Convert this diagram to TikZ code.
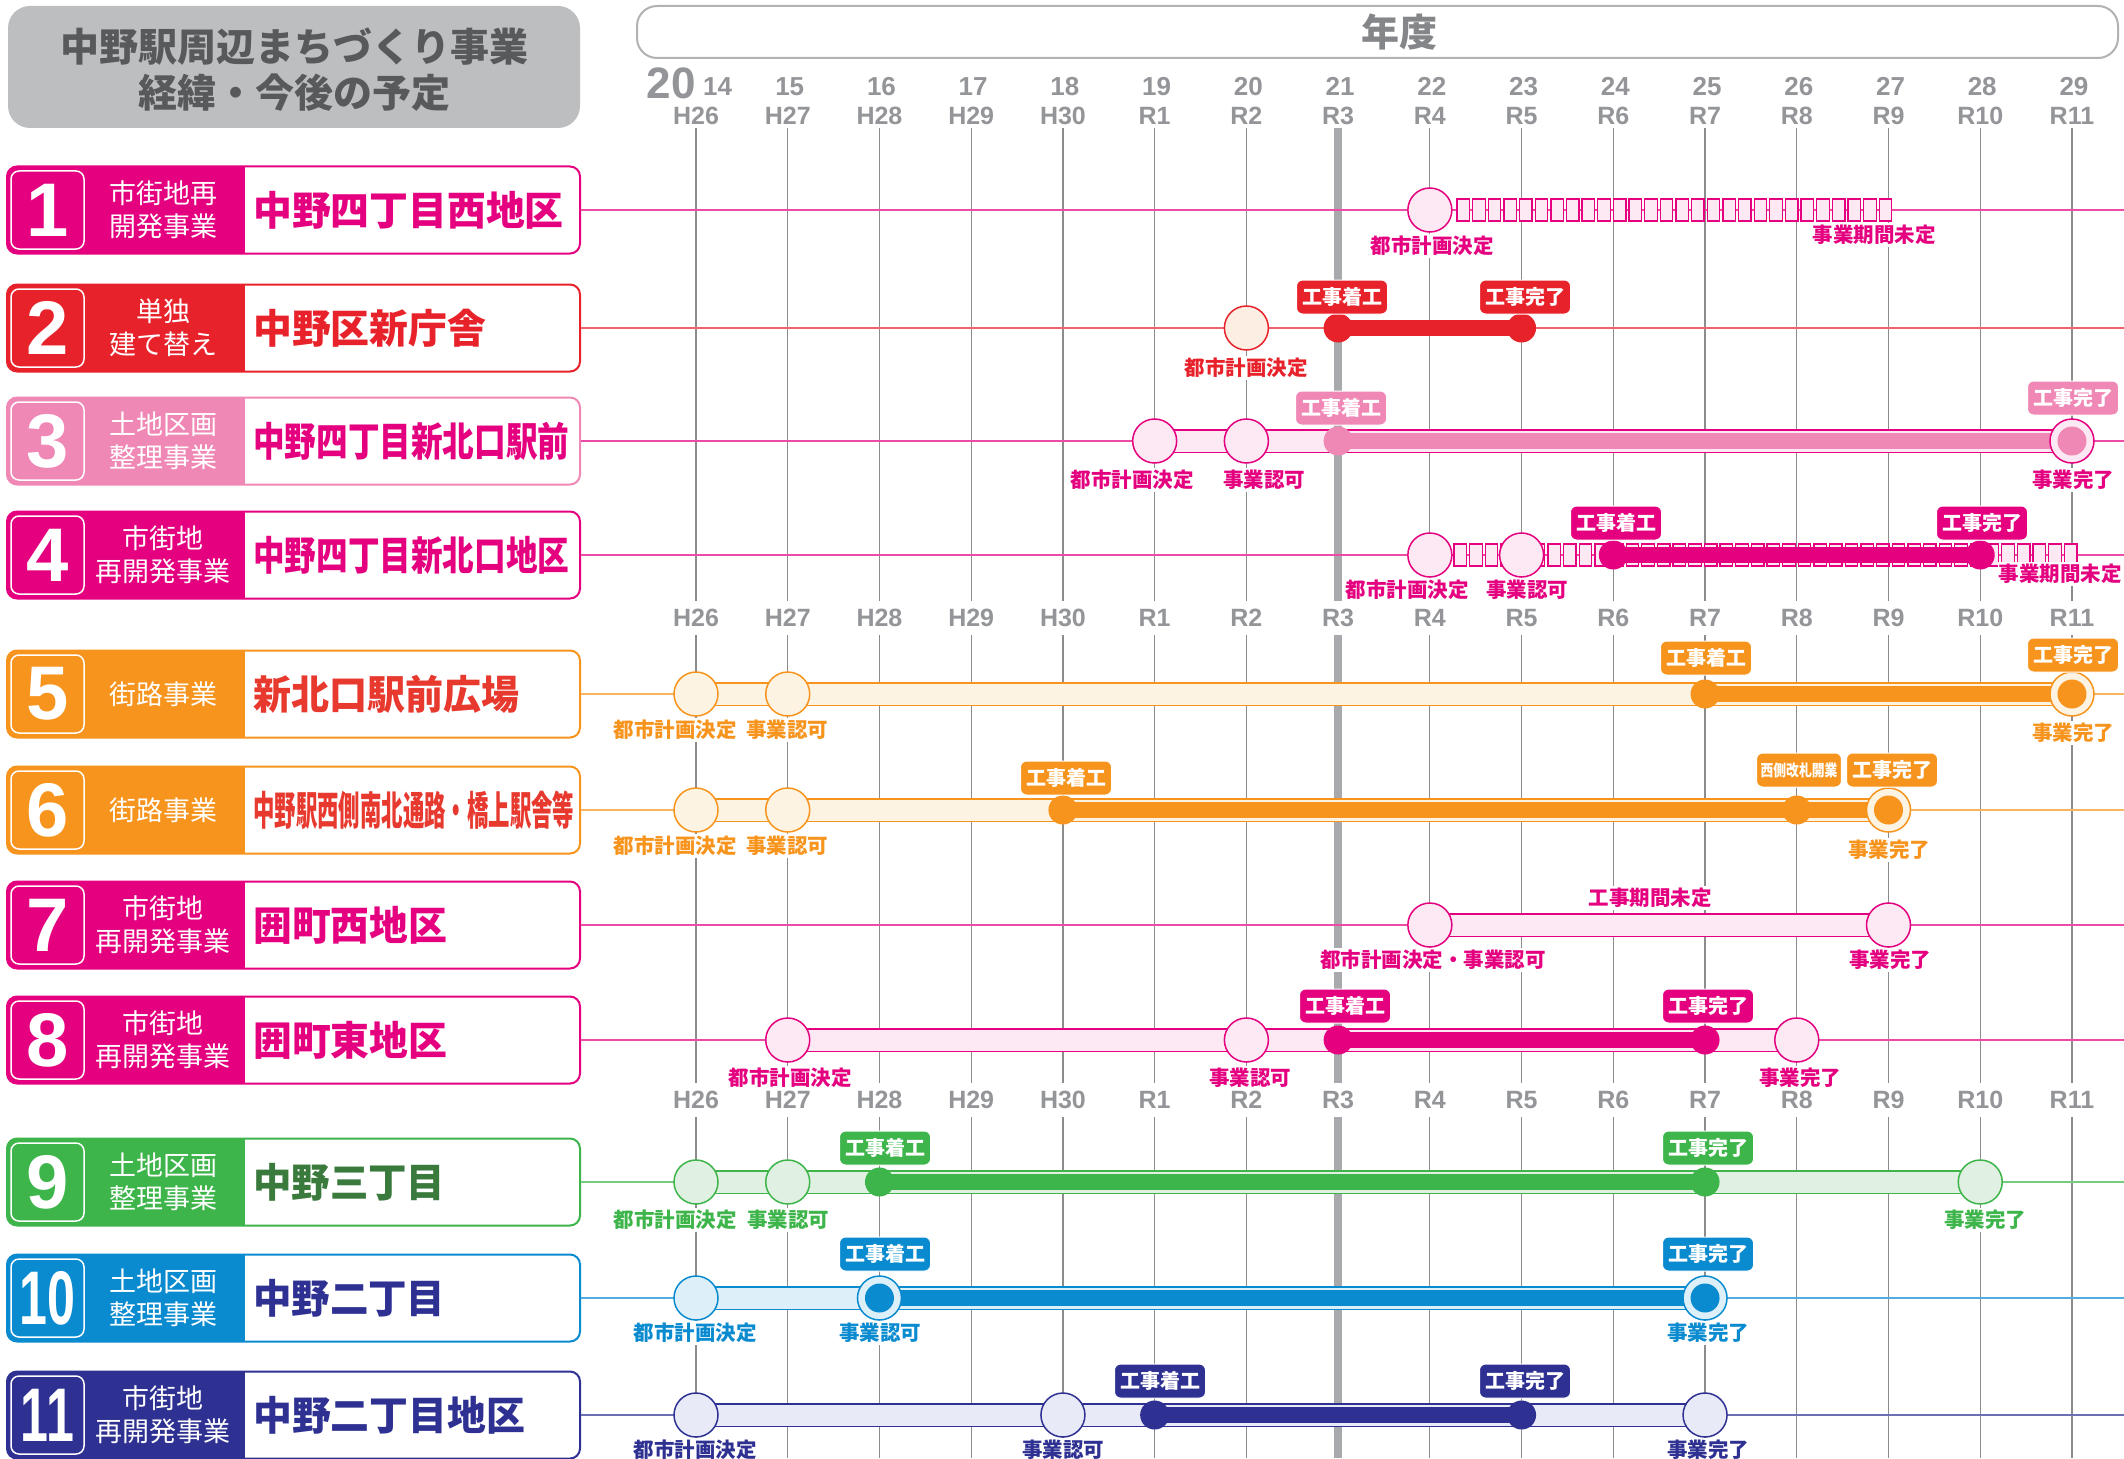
\documentclass[tikz,border=0pt]{standalone}
\usepackage{fontspec}
\usepackage{graphicx}
\setmainfont{Noto Sans CJK JP}
\newfontfamily\jp{Noto Sans CJK JP}
\newfontfamily\lat{Liberation Sans}
\newcommand\myfs[1]{\fontsize{#1}{#1}\selectfont}
\pgfmathdeclarefunction{gx}{1}{\pgfmathparse{696+91.73*#1}}
\definecolor{mag}{HTML}{E4007F}
\definecolor{magL}{HTML}{FCE9F3}
\definecolor{rd}{HTML}{E8222A}
\definecolor{rdL}{HTML}{FDEEE3}
\definecolor{pnk}{HTML}{F088B6}
\definecolor{orn}{HTML}{F7941D}
\definecolor{ornL}{HTML}{FDF3E2}
\definecolor{ornN}{HTML}{E8392F}
\definecolor{grn}{HTML}{3DB54A}
\definecolor{grnL}{HTML}{E0F0E2}
\definecolor{grnN}{HTML}{3A7A3D}
\definecolor{blu}{HTML}{0A8BD0}
\definecolor{bluL}{HTML}{DDF0FA}
\definecolor{nav}{HTML}{2E3192}
\definecolor{navL}{HTML}{E8EBF7}
\definecolor{hgray}{HTML}{939598}
\definecolor{gridgray}{HTML}{8C8C8C}
\definecolor{rthree}{HTML}{A7A9AC}
\definecolor{titlebg}{HTML}{BCBEC0}
\definecolor{titletx}{HTML}{58595B}
\colorlet{rc}{mag}\colorlet{rl}{magL}\colorlet{rb}{mag}
\newcommand\rowbox[9]{%
  \begin{scope}
  \clip[rounded corners=10pt] (7,{#2-43.5}) rectangle (580,{#2+43.5});
  \fill[#8] (7,{#2-43.5}) rectangle (245,{#2+43.5});
  \end{scope}
  \node[draw=#8, line width=2pt, rounded corners=10pt, minimum width=573pt, minimum height=87pt, inner sep=0pt] (b#1) at (293.5,#2) {};
  \node[draw=white, line width=1.5pt, rounded corners=8pt, minimum width=73pt, minimum height=78pt, inner sep=0pt] (n#1) at (47.5,#2) {};
  \node[text=white, font=\lat\bfseries\myfs{76}, inner sep=0pt] (nt#1) at (47.5,#2) {\scalebox{#4}[1]{#3}};
  \node[text=white, font=\jp\fontsize{27}{33}\selectfont, align=center, inner sep=0pt] (c#1) at (163,#2) {#5};
  \node[text=#9, font=\jp\bfseries\myfs{40}, anchor=west, inner sep=0pt] (m#1) at (253,#2) {\scalebox{#7}[1]{#6}};
}
\begin{document}
\begin{tikzpicture}[x=1pt,y=-1pt,
  vline/.style={draw=gridgray, line width=1.2pt},
  hlab/.style={text=hgray, font=\lat\bfseries\myfs{25}, inner sep=0pt},
  hlabw/.style={text=hgray, font=\lat\bfseries\myfs{25}, fill=white, inner xsep=2pt, inner ysep=8pt},
  rowline/.style={draw=rc!70, line width=2.5pt},
  xband/.style={draw=rc, line width=1.5pt, double=rl, double distance=21pt},
  xbar/.style={draw=rb, line width=15.5pt},
  mkopen/.style={circle, draw=rc, fill=rl, line width=1.5pt, minimum size=44pt, inner sep=0pt},
  mkdot/.style={circle, fill=rb, minimum size=29pt, inner sep=0pt},
  chainbox/.style={draw=rc, fill=rl, line width=1.3pt},
  xbadge/.style={fill=rb, text=white, rounded corners=6pt, font=\jp\bfseries\myfs{20}, minimum height=34pt, inner xsep=5.5pt, inner ysep=2pt, draw=white, line width=1pt},
  xlab/.style={text=rc, font=\jp\bfseries\myfs{20.5}, fill=white, inner xsep=1pt, inner ysep=2pt}
]
\useasboundingbox (0,0) rectangle (2124,1458);
\fill[white] (0,0) rectangle (2124,1458);

% title
\node[fill=titlebg, rounded corners=22pt, minimum width=572pt, minimum height=122pt, inner sep=0pt] (title) at (294,67) {};
\node[text=titletx, font=\jp\bfseries\fontsize{39}{46}\selectfont, align=center] (titletext) at (294,70) {中野駅周辺まちづくり事業\\経緯・今後の予定};
% year header
\node[draw=gray!60, line width=2pt, fill=white, rounded corners=20pt, minimum width=1481pt, minimum height=52pt, inner sep=0pt] (hdr) at (1377.5,32) {};
\node[text=hgray!90!black, font=\jp\bfseries\myfs{38}] (nendo) at (1399,32) {年度};

% grid lines
\foreach \i in {0,...,15} \draw[vline] ({gx(\i)},128) -- ({gx(\i)},1458);
\draw[draw=rthree, line width=8pt] ({gx(7)},128) -- ({gx(7)},1458);

% year numbers
\node[text=hgray, font=\lat\bfseries\myfs{44}, anchor=base east, inner sep=0pt] (y20) at (696,99) {20};
\node[text=hgray, font=\lat\bfseries\myfs{26}, anchor=base west, inner sep=0pt] (y14) at (703,96) {14};
\foreach \yr [count=\i from 1] in {15,...,29} {
  \node[text=hgray, font=\lat\bfseries\myfs{26}, anchor=base, inner sep=0pt] (y\yr) at ({gx(\i)+2},96) {\yr};
}
\foreach \lb [count=\i from 0] in {H26,H27,H28,H29,H30,R1,R2,R3,R4,R5,R6,R7,R8,R9,R10,R11} {
  \node[hlab, anchor=base] (ha\i) at ({gx(\i)},125) {\lb};
  \node[hlabw] (hb\i) at ({gx(\i)},618) {\lb};
  \node[hlabw] (hc\i) at ({gx(\i)},1100) {\lb};
}

% row boxes
\rowbox{1}{210}{1}{1}{市街地再\\開発事業}{中野四丁目西地区}{0.97}{mag}{mag}
\rowbox{2}{328}{2}{1}{単独\\建て替え}{中野区新庁舎}{0.97}{rd}{rd}
\rowbox{3}{441}{3}{1}{土地区画\\整理事業}{中野四丁目新北口駅前}{0.79}{pnk}{mag}
\rowbox{4}{555}{4}{1}{市街地\\再開発事業}{中野四丁目新北口地区}{0.79}{mag}{mag}
\rowbox{5}{694}{5}{1}{街路事業}{新北口駅前広場}{0.95}{orn}{ornN}
\rowbox{6}{810}{6}{1}{街路事業}{中野駅西側南北通路・橋上駅舎等}{0.535}{orn}{ornN}
\rowbox{7}{925}{7}{1}{市街地\\再開発事業}{囲町西地区}{0.97}{mag}{mag}
\rowbox{8}{1040}{8}{1}{市街地\\再開発事業}{囲町東地区}{0.97}{mag}{mag}
\rowbox{9}{1182}{9}{1}{土地区画\\整理事業}{中野三丁目}{0.96}{grn}{grnN}
\rowbox{10}{1298}{10}{0.66}{土地区画\\整理事業}{中野二丁目}{0.96}{blu}{nav}
\rowbox{11}{1415}{11}{0.66}{市街地\\再開発事業}{中野二丁目地区}{0.97}{nav}{nav}

% ---- row 1
\begin{scope}
\colorlet{rc}{mag}\colorlet{rl}{magL}\colorlet{rb}{mag}
\coordinate (e1) at (2124,210);
\draw[rowline] (b1.east) -- (e1);
\foreach \k in {0,...,27} \draw[chainbox] ({1457+15.64*\k},199) rectangle +(12.5,22);
\node[mkopen] (r1m8) at ({gx(8)},210) {};
\node[xlab] (r1l1) at (1432,246) {都市計画決定};
\node[xlab] (r1l2) at (1874,235) {事業期間未定};
\end{scope}

% ---- row 2
\begin{scope}
\colorlet{rc}{rd}\colorlet{rl}{rdL}\colorlet{rb}{rd}
\coordinate (e2) at (2124,328);
\coordinate (r2p7) at ({gx(7)},328);
\coordinate (r2p9) at ({gx(9)},328);
\draw[rowline] (b2.east) -- (e2);
\draw[xbar] (r2p7) -- (r2p9);
\node[mkopen] (r2m6) at ({gx(6)},328) {};
\node[mkdot] (r2m7) at (r2p7) {};
\node[mkdot] (r2m9) at (r2p9) {};
\node[xbadge] (r2k1) at (1342,297) {工事着工};
\node[xbadge] (r2k2) at (1525,297) {工事完了};
\node[xlab] (r2l1) at (1246,368) {都市計画決定};
\end{scope}

% ---- row 3
\begin{scope}
\colorlet{rc}{mag}\colorlet{rl}{magL}\colorlet{rb}{pnk}
\coordinate (e3) at (2124,441);
\coordinate (r3p5) at ({gx(5)},441);
\coordinate (r3p7) at ({gx(7)},441);
\coordinate (r3p15) at ({gx(15)},441);
\draw[rowline] (b3.east) -- (e3);
\draw[xband] (r3p5) -- (r3p15);
\draw[xbar] (r3p7) -- (r3p15);
\node[mkopen] (r3m5) at (r3p5) {};
\node[mkopen] (r3m6) at ({gx(6)},441) {};
\node[mkdot] (r3m7) at (r3p7) {};
\node[mkopen] (r3m15) at (r3p15) {};
\node[mkdot] (r3m15d) at (r3p15) {};
\node[xbadge] (r3k1) at (1341,408) {工事着工};
\node[xbadge] (r3k2) at (2073,398) {工事完了};
\node[xlab] (r3l1) at (1132,480) {都市計画決定};
\node[xlab] (r3l2) at (1264,480) {事業認可};
\node[xlab] (r3l3) at (2073,480) {事業完了};
\end{scope}

% ---- row 4
\begin{scope}
\colorlet{rc}{mag}\colorlet{rl}{magL}\colorlet{rb}{mag}
\coordinate (e4) at (2124,555);
\coordinate (r4p10) at ({gx(10)},555);
\coordinate (r4p14) at ({gx(14)},555);
\draw[rowline] (b4.east) -- (e4);
\foreach \k in {0,...,39} \draw[chainbox] ({1454+15.65*\k},544) rectangle +(12.5,22);
\draw[xbar] (r4p10) -- (r4p14);
\node[mkopen] (r4m8) at ({gx(8)},555) {};
\node[mkopen] (r4m9) at ({gx(9)},555) {};
\node[mkdot] (r4m10) at (r4p10) {};
\node[mkdot] (r4m14) at (r4p14) {};
\node[xbadge] (r4k1) at (1616,523) {工事着工};
\node[xbadge] (r4k2) at (1982,523) {工事完了};
\node[xlab] (r4l1) at (1407,590) {都市計画決定};
\node[xlab] (r4l2) at (1527,590) {事業認可};
\node[xlab, anchor=east] (r4l3) at (2123,574) {事業期間未定};
\end{scope}

% ---- row 5
\begin{scope}
\colorlet{rc}{orn}\colorlet{rl}{ornL}\colorlet{rb}{orn}
\coordinate (e5) at (2124,694);
\coordinate (r5p0) at ({gx(0)},694);
\coordinate (r5p11) at ({gx(11)},694);
\coordinate (r5p15) at ({gx(15)},694);
\draw[rowline] (b5.east) -- (e5);
\draw[xband] (r5p0) -- (r5p15);
\draw[xbar] (r5p11) -- (r5p15);
\node[mkopen] (r5m0) at (r5p0) {};
\node[mkopen] (r5m1) at ({gx(1)},694) {};
\node[mkdot] (r5m11) at (r5p11) {};
\node[mkopen] (r5m15) at (r5p15) {};
\node[mkdot] (r5m15d) at (r5p15) {};
\node[xbadge] (r5k1) at (1706,658) {工事着工};
\node[xbadge] (r5k2) at (2073,655) {工事完了};
\node[xlab] (r5l1) at (675,730) {都市計画決定};
\node[xlab] (r5l2) at (787,730) {事業認可};
\node[xlab] (r5l3) at (2073,733) {事業完了};
\end{scope}

% ---- row 6
\begin{scope}
\colorlet{rc}{orn}\colorlet{rl}{ornL}\colorlet{rb}{orn}
\coordinate (e6) at (2124,810);
\coordinate (r6p0) at ({gx(0)},810);
\coordinate (r6p4) at ({gx(4)},810);
\coordinate (r6p13) at ({gx(13)},810);
\draw[rowline] (b6.east) -- (e6);
\draw[xband] (r6p0) -- (r6p13);
\draw[xbar] (r6p4) -- (r6p13);
\node[mkopen] (r6m0) at (r6p0) {};
\node[mkopen] (r6m1) at ({gx(1)},810) {};
\node[mkdot] (r6m4) at (r6p4) {};
\node[mkdot] (r6m12) at ({gx(12)},810) {};
\node[mkopen] (r6m13) at (r6p13) {};
\node[mkdot] (r6m13d) at (r6p13) {};
\node[xbadge] (r6k1) at (1066,778) {工事着工};
\node[xbadge, font=\jp\bfseries\myfs{16}, inner xsep=4pt] (r6k2) at (1799,770) {\scalebox{0.8}[1]{西側改札開業}};
\node[xbadge] (r6k3) at (1892,770) {工事完了};
\node[xlab] (r6l1) at (675,846) {都市計画決定};
\node[xlab] (r6l2) at (787,846) {事業認可};
\node[xlab] (r6l3) at (1889,850) {事業完了};
\end{scope}

% ---- row 7
\begin{scope}
\colorlet{rc}{mag}\colorlet{rl}{magL}\colorlet{rb}{mag}
\coordinate (e7) at (2124,925);
\coordinate (r7p8) at ({gx(8)},925);
\coordinate (r7p13) at ({gx(13)},925);
\draw[rowline] (b7.east) -- (e7);
\draw[xband] (r7p8) -- (r7p13);
\node[mkopen] (r7m8) at (r7p8) {};
\node[mkopen] (r7m13) at (r7p13) {};
\node[xlab] (r7l0) at (1650,898) {工事期間未定};
\node[xlab] (r7l1) at (1433,960) {都市計画決定・事業認可};
\node[xlab] (r7l2) at (1890,960) {事業完了};
\end{scope}

% ---- row 8
\begin{scope}
\colorlet{rc}{mag}\colorlet{rl}{magL}\colorlet{rb}{mag}
\coordinate (e8) at (2124,1040);
\coordinate (r8p1) at ({gx(1)},1040);
\coordinate (r8p7) at ({gx(7)},1040);
\coordinate (r8p11) at ({gx(11)},1040);
\coordinate (r8p12) at ({gx(12)},1040);
\draw[rowline] (b8.east) -- (e8);
\draw[xband] (r8p1) -- (r8p12);
\draw[xbar] (r8p7) -- (r8p11);
\node[mkopen] (r8m1) at (r8p1) {};
\node[mkopen] (r8m6) at ({gx(6)},1040) {};
\node[mkopen] (r8m12) at (r8p12) {};
\node[mkdot] (r8m7) at (r8p7) {};
\node[mkdot] (r8m11) at (r8p11) {};
\node[xbadge] (r8k1) at (1345,1006) {工事着工};
\node[xbadge] (r8k2) at (1708,1006) {工事完了};
\node[xlab] (r8l1) at (790,1078) {都市計画決定};
\node[xlab] (r8l2) at (1250,1078) {事業認可};
\node[xlab] (r8l3) at (1800,1078) {事業完了};
\end{scope}

% ---- row 9
\begin{scope}
\colorlet{rc}{grn}\colorlet{rl}{grnL}\colorlet{rb}{grn}
\coordinate (e9) at (2124,1182);
\coordinate (r9p0) at ({gx(0)},1182);
\coordinate (r9p2) at ({gx(2)},1182);
\coordinate (r9p11) at ({gx(11)},1182);
\coordinate (r9p14) at ({gx(14)},1182);
\draw[rowline] (b9.east) -- (e9);
\draw[xband] (r9p0) -- (r9p14);
\draw[xbar] (r9p2) -- (r9p11);
\node[mkopen] (r9m0) at (r9p0) {};
\node[mkopen] (r9m1) at ({gx(1)},1182) {};
\node[mkopen] (r9m14) at (r9p14) {};
\node[mkdot] (r9m2) at (r9p2) {};
\node[mkdot] (r9m11) at (r9p11) {};
\node[xbadge] (r9k1) at (885,1148) {工事着工};
\node[xbadge] (r9k2) at (1708,1148) {工事完了};
\node[xlab] (r9l1) at (675,1220) {都市計画決定};
\node[xlab] (r9l2) at (788,1220) {事業認可};
\node[xlab] (r9l3) at (1985,1220) {事業完了};
\end{scope}

% ---- row 10
\begin{scope}
\colorlet{rc}{blu}\colorlet{rl}{bluL}\colorlet{rb}{blu}
\coordinate (e10) at (2124,1298);
\coordinate (r10p0) at ({gx(0)},1298);
\coordinate (r10p2) at ({gx(2)},1298);
\coordinate (r10p11) at ({gx(11)},1298);
\draw[rowline] (b10.east) -- (e10);
\draw[xband] (r10p0) -- (r10p11);
\draw[xbar] (r10p2) -- (r10p11);
\node[mkopen] (r10m0) at (r10p0) {};
\node[mkopen] (r10m2) at (r10p2) {};
\node[mkdot] (r10m2d) at (r10p2) {};
\node[mkopen] (r10m11) at (r10p11) {};
\node[mkdot] (r10m11d) at (r10p11) {};
\node[xbadge] (r10k1) at (885,1254) {工事着工};
\node[xbadge] (r10k2) at (1708,1254) {工事完了};
\node[xlab] (r10l1) at (695,1333) {都市計画決定};
\node[xlab] (r10l2) at (880,1333) {事業認可};
\node[xlab] (r10l3) at (1708,1333) {事業完了};
\end{scope}

% ---- row 11
\begin{scope}
\colorlet{rc}{nav}\colorlet{rl}{navL}\colorlet{rb}{nav}
\coordinate (e11) at (2124,1415);
\coordinate (r11p0) at ({gx(0)},1415);
\coordinate (r11p5) at ({gx(5)},1415);
\coordinate (r11p9) at ({gx(9)},1415);
\coordinate (r11p11) at ({gx(11)},1415);
\draw[rowline] (b11.east) -- (e11);
\draw[xband] (r11p0) -- (r11p11);
\draw[xbar] (r11p5) -- (r11p9);
\node[mkopen] (r11m0) at (r11p0) {};
\node[mkopen] (r11m4) at ({gx(4)},1415) {};
\node[mkopen] (r11m11) at (r11p11) {};
\node[mkdot] (r11m5) at (r11p5) {};
\node[mkdot] (r11m9) at (r11p9) {};
\node[xbadge] (r11k1) at (1160,1381) {工事着工};
\node[xbadge] (r11k2) at (1525,1381) {工事完了};
\node[xlab] (r11l1) at (695,1450) {都市計画決定};
\node[xlab] (r11l2) at (1063,1450) {事業認可};
\node[xlab] (r11l3) at (1708,1450) {事業完了};
\end{scope}
\end{tikzpicture}
\end{document}
